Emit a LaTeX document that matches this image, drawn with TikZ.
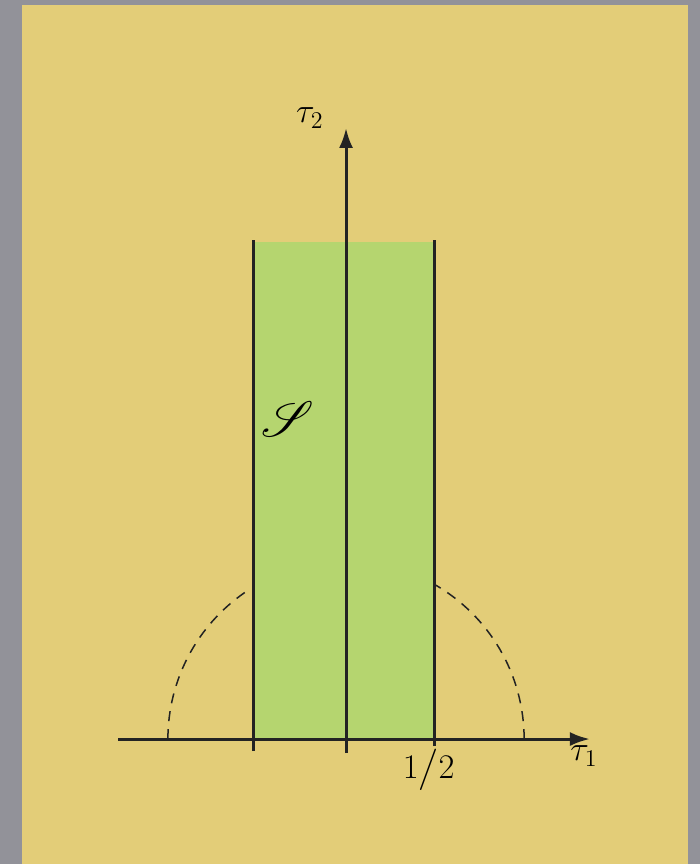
\documentclass[tikz,border=0pt]{standalone}
\usepackage{amsmath,amssymb,mathrsfs}
\usepackage{xcolor}
\usetikzlibrary{arrows.meta,calc}
\definecolor{frame}{HTML}{929299}
\definecolor{parchment}{HTML}{E3CD78}
\definecolor{strip}{HTML}{B5D56F}
\definecolor{ink}{HTML}{232323}

\begin{document}
\begin{tikzpicture}[
    x=88pt, y=88pt,
    axisline/.style={ink, line width=1.5pt, -{Latex[length=10pt,width=7pt]}},
    side/.style={ink, line width=1.5pt},
    dashedarc/.style={ink, line width=0.75pt, dash pattern=on 5pt off 4pt},
    lbl/.style={font=\LARGE, inner sep=1pt}
  ]
  % Page
  \fill[frame] (-1.966,-0.710) rectangle (2.011,4.199);
  \fill[parchment] (-1.841,-0.710) rectangle (1.943,4.170);
  \useasboundingbox (-1.966,-0.710) rectangle (2.011,4.199);

  % Strip
  \fill[strip] (-0.525,0) rectangle (0.5,2.824);

  % Coordinates
  \coordinate (xs) at (-1.295,0);   \coordinate (xe) at (1.386,0);
  \coordinate (ys) at (0,-0.08);    \coordinate (ye) at (0,3.472);
  \coordinate (lb) at (-0.525,-0.068); \coordinate (lt) at (-0.525,2.835);
  \coordinate (rb) at (0.5,-0.04);  \coordinate (rt) at (0.5,2.835);

  % Unit circle
  \draw[dashedarc] (1.012,0) arc (0:60.5:1.012);
  \draw[dashedarc] (-1.012,0) arc (180:124.5:1.012);

  % Axes and sides
  \draw[axisline] (xs) -- (xe);
  \draw[axisline] (ys) -- (ye);
  \draw[side] (lb) -- (lt);
  \draw[side] (rb) -- (rt);

  % Labels
  \node[lbl] (tau2) at (-0.205,3.528) {$\tau_2$};
  \node[lbl] (tau1) at (1.352,-0.097) {$\tau_1$};
  \node[lbl] (half) at (0.47,-0.176) {$1\big/2$};
  \node[lbl, font=\fontsize{23}{27}\selectfont] (reg) at (-0.33,1.818) {$\mathscr{S}$};
\end{tikzpicture}
\end{document}
